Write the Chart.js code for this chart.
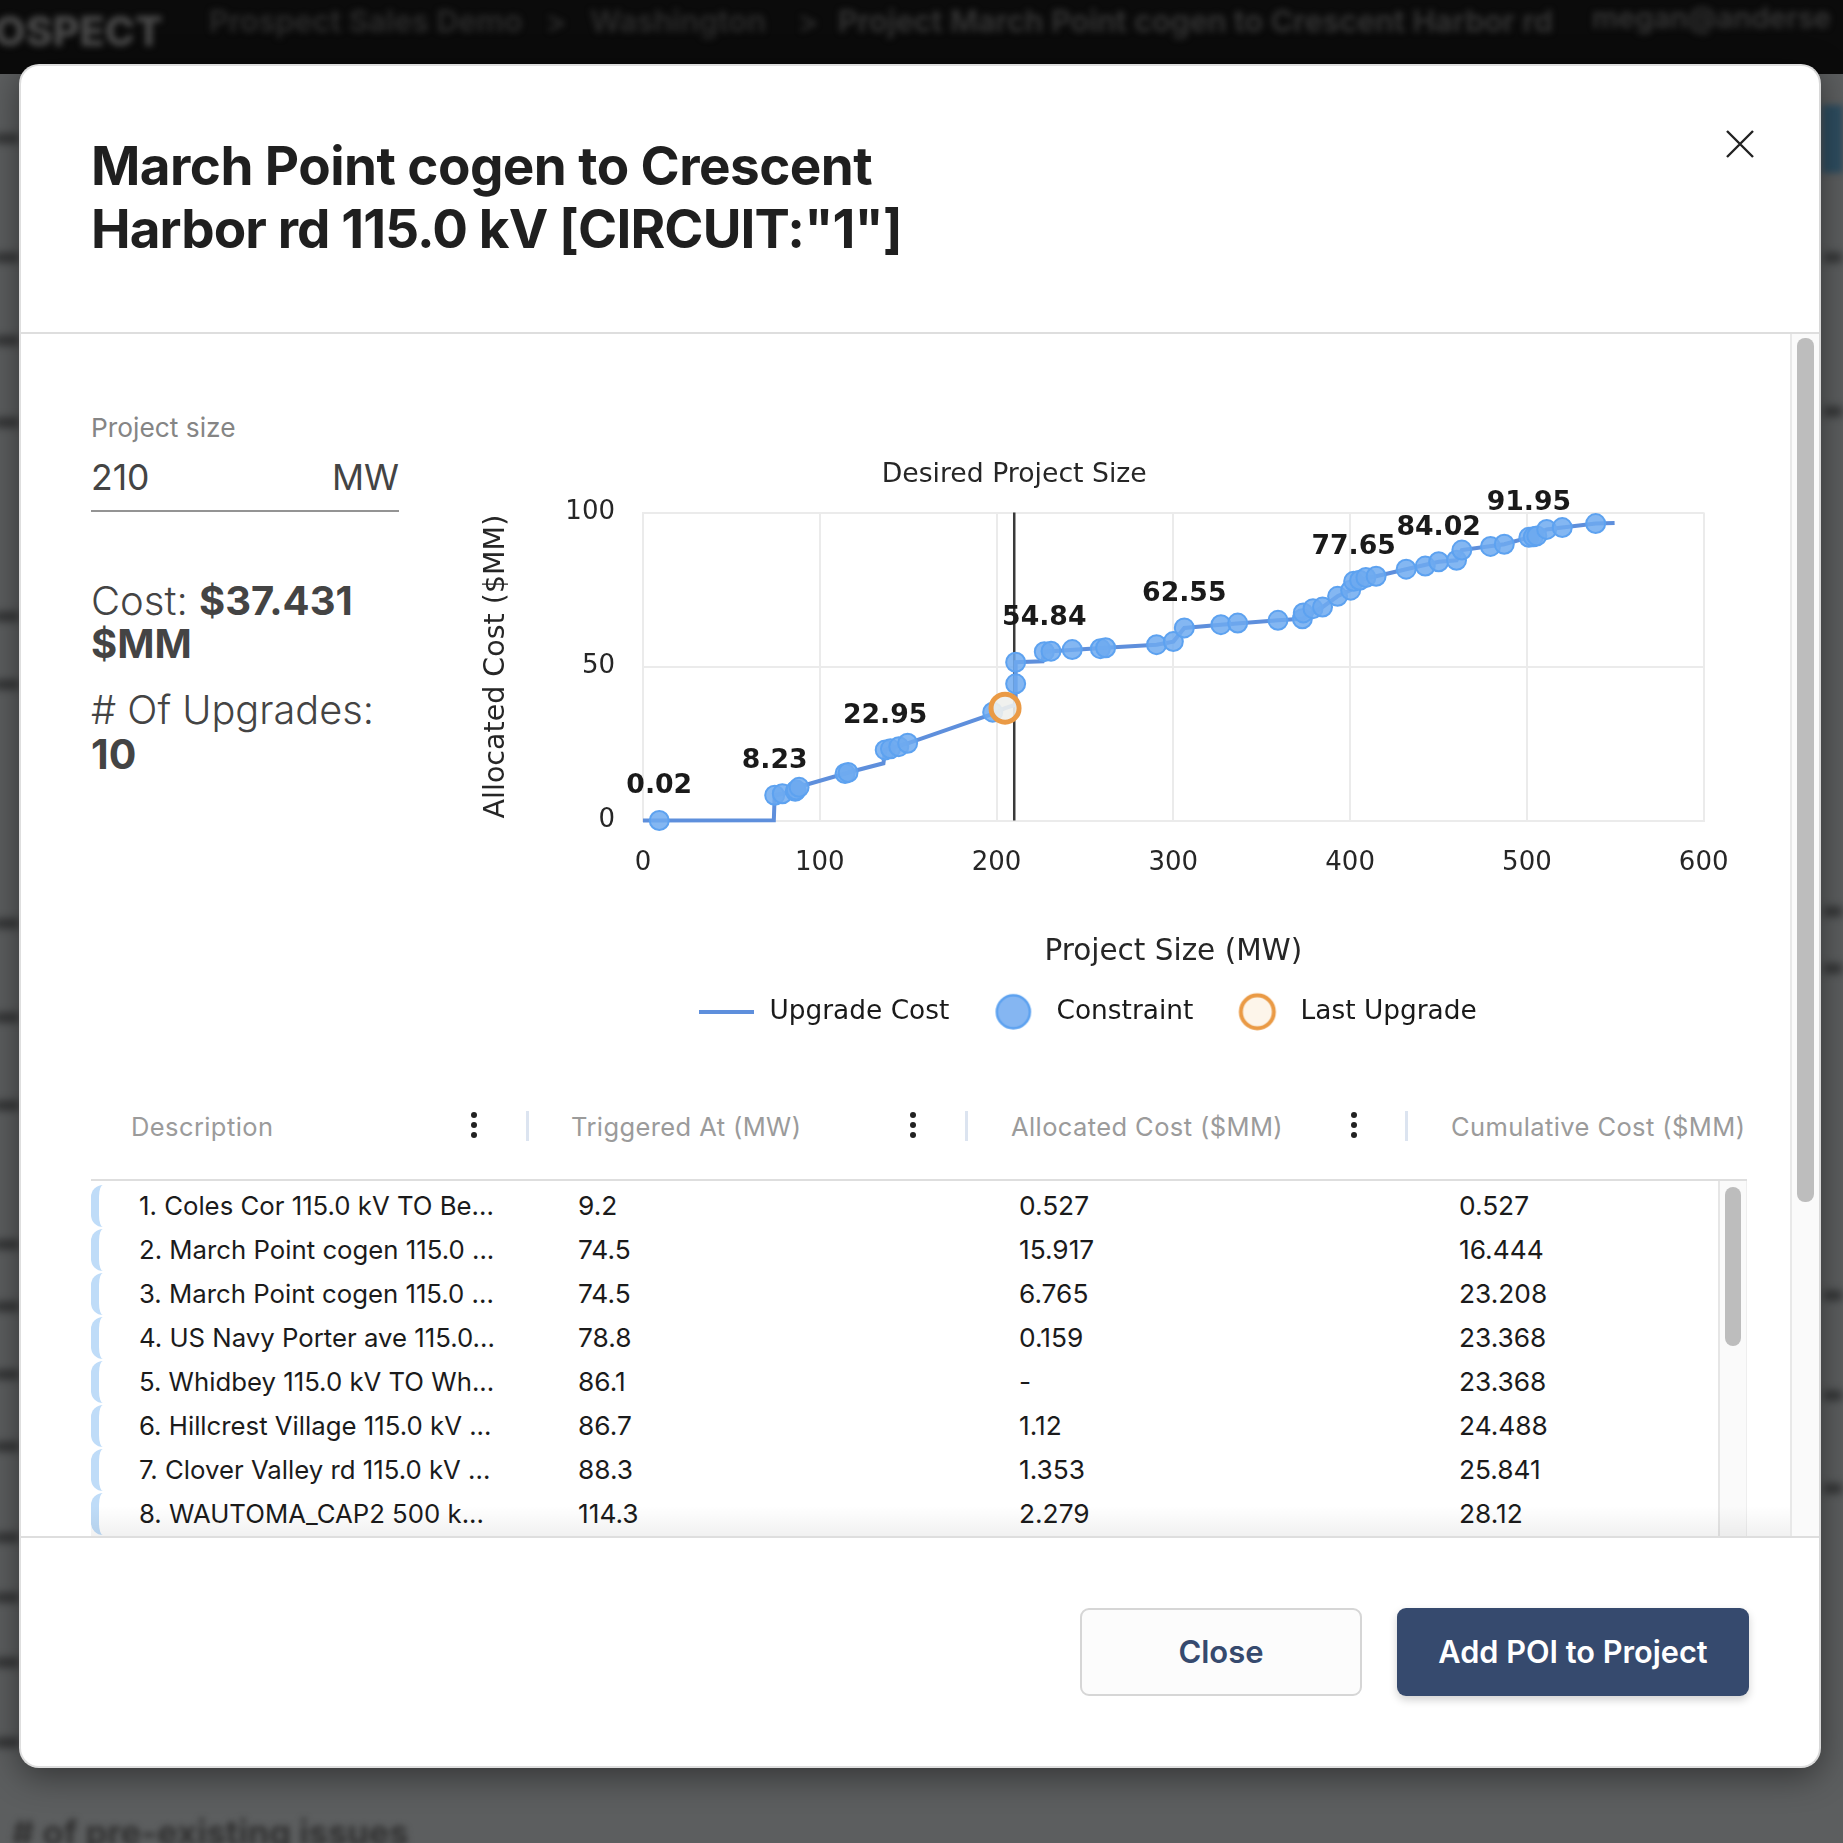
<!DOCTYPE html>
<html>
<head>
<meta charset="utf-8">
<script src="https://cdn.jsdelivr.net/npm/chart.js@4"></script>
<style>
html,body{margin:0;padding:0;width:1843px;height:1843px;overflow:hidden;background:#5c5e5f;font-family:Inter,"Noto Sans",sans-serif}
.abs{position:absolute;white-space:nowrap}
.mid{transform:translateY(-50%)}
#topbar{position:absolute;left:0;top:0;width:1843px;height:74px;background:#0b0b0b;overflow:hidden}
.blurtxt{position:absolute;white-space:nowrap;filter:blur(3px);color:#3a3a3a;font-weight:600}
.streak{position:absolute;background:#2f3031;filter:blur(4px);height:9px}
#modal{position:absolute;left:19px;top:64px;width:1802px;height:1704px;box-sizing:border-box;background:#fff;border-radius:20px;border:2.5px solid #dedede;border-right-color:#d8d8d8;box-shadow:0 8px 34px rgba(0,0,0,.45);overflow:hidden}
#page{position:absolute;left:0;top:0;width:1843px;height:1843px;overflow:hidden}
.rule{position:absolute;background:#dedede}
.row{position:absolute;left:91px;width:1626px;height:44px}
.cell{position:absolute;white-space:nowrap;font-size:26.3px;color:#1b1b1b;line-height:44px;top:0}
.cell.desc{font-size:25.75px}
.bracket{position:absolute;left:0;top:1px;width:18px;height:42px;border-left:8px solid #bfdcf8;border-radius:12px 0 0 12px;box-sizing:border-box}
.hd{position:absolute;white-space:nowrap;font-size:25.5px;color:#9b9b9b;top:1126px;transform:translateY(-50%);letter-spacing:.4px}
.sep{position:absolute;top:1111px;width:3px;height:30px;background:#dce4f0}
.keb{position:absolute;top:1112px;width:6px;height:6px;border-radius:50%;background:#222;box-shadow:0 10px 0 #222,0 20px 0 #222}
canvas{position:absolute;left:462px;top:440px}
</style>
</head>
<body>
<div id="page">
  <div id="topbar">
    <div class="blurtxt" style="left:-6px;top:6px;font-size:41px;font-weight:800;color:#4a4a4a">OSPECT</div>
    <div class="blurtxt" style="left:209px;top:2px;font-size:30.5px;color:#2c2c2c">Prospect Sales Demo</div>
    <div class="blurtxt" style="left:546px;top:2px;font-size:30.5px;color:#2c2c2c">&gt;</div>
    <div class="blurtxt" style="left:590px;top:2px;font-size:30.5px;color:#2c2c2c">Washington</div>
    <div class="blurtxt" style="left:798px;top:2px;font-size:30.5px;color:#2c2c2c">&gt;</div>
    <div class="blurtxt" style="left:838px;top:2px;font-size:30.5px;color:#363636">Project March Point cogen to Crescent Harbor rd</div>
    <div class="blurtxt" style="left:1592px;top:0px;font-size:29px;color:#363636">megan@anderse</div>
  </div>
  <div id="streaks"></div>
  <div style="position:absolute;left:1822px;top:105px;width:21px;height:68px;background:#2e4d60;filter:blur(3px)"></div>
  <div class="blurtxt" style="left:12px;top:1812px;font-size:34.5px;font-weight:700;color:#303030"># of pre-existing issues</div>

  <div id="modal"></div>

  <div class="abs" style="left:91px;top:135px;font-size:53px;font-weight:700;line-height:63px;color:#1f1f1f"><span style="letter-spacing:-.55px">March Point cogen to Crescent</span><br><span style="letter-spacing:-.88px">Harbor rd 115.0 kV [CIRCUIT:"1"]</span></div>
  <svg class="abs" style="left:1724px;top:128px" width="32" height="32"><path d="M3 3L29 29M29 3L3 29" stroke="#222" stroke-width="2.4" fill="none"/></svg>
  <div class="rule" style="left:21px;top:332px;width:1798px;height:2px"></div>

  <div class="abs mid" style="left:91px;top:427px;font-size:26.3px;color:#858585">Project size</div>
  <div class="abs mid" style="left:91px;top:477px;font-size:35.5px;color:#444;font-weight:400">210</div>
  <div class="abs mid" style="right:1444px;top:477px;font-size:35.5px;color:#444;font-weight:400">MW</div>
  <div style="position:absolute;left:91px;top:510px;width:308px;height:2px;background:#949494"></div>
  <div class="abs mid" style="left:91px;top:600px;font-size:40px;color:#444;font-weight:300">Cost: <b style="font-weight:700">$37.431</b></div>
  <div class="abs mid" style="left:91px;top:643px;font-size:40px;color:#444;font-weight:700">$MM</div>
  <div class="abs mid" style="left:91px;top:710px;font-size:39.7px;color:#444;font-weight:300"># Of Upgrades:</div>
  <div class="abs mid" style="left:91px;top:754px;font-size:41px;color:#444;font-weight:700">10</div>

  <canvas id="chart" width="1294" height="595" style="width:1294px;height:595px"></canvas>

  <div class="hd" style="left:131px">Description</div>
  <div class="hd" style="left:571px">Triggered At (MW)</div>
  <div class="hd" style="left:1011px">Allocated Cost ($MM)</div>
  <div class="hd" style="left:1451px">Cumulative Cost ($MM)</div>
  <div class="keb" style="left:471px"></div><div class="keb" style="left:910px"></div><div class="keb" style="left:1351px"></div>
  <div class="sep" style="left:526px"></div><div class="sep" style="left:965px"></div><div class="sep" style="left:1405px"></div>
  <div class="rule" style="left:91px;top:1179px;width:1656px;height:2px"></div>

  <div style="position:absolute;left:0;top:1181px;width:1843px;height:355px;overflow:hidden" id="rowsClip"></div>
  <div style="position:absolute;left:1718px;top:1181px;width:29px;height:355px;background:#fafafa;border-left:2px solid #e6e6e6;border-right:1px solid #eee;box-sizing:border-box"></div>
  <div style="position:absolute;left:1725px;top:1187px;width:16px;height:159px;border-radius:8px;background:#bdbdbd"></div>
  <div style="position:absolute;left:91px;top:1506px;width:1700px;height:30px;background:linear-gradient(rgba(0,0,0,0),rgba(0,0,0,.055))"></div>

  <div style="position:absolute;left:1790px;top:334px;width:29px;height:1202px;background:#fafafa;border-left:2px solid #e8e8e8;box-sizing:border-box"></div>
  <div style="position:absolute;left:1797px;top:338px;width:17px;height:864px;border-radius:8px;background:#bdbdbd"></div>
  <div class="rule" style="left:21px;top:1536px;width:1798px;height:2px"></div>

  <div class="abs" style="left:1080px;top:1608px;width:282px;height:88px;box-sizing:border-box;background:#fcfcfc;border:2.5px solid #d6d6d6;border-radius:9px;color:#364a6e;font-size:31px;font-weight:600;line-height:83px;text-align:center">Close</div>
  <div class="abs" style="left:1397px;top:1608px;width:352px;height:88px;background:#364a6e;border-radius:9px;color:#fff;font-size:30.7px;font-weight:600;line-height:88px;text-align:center;box-shadow:0 4px 8px rgba(0,0,0,.18)">Add POI to Project</div>
</div>

<script>
// ---- chart data ----
const constraintX = [9.2,74.5,78.8,86.1,86.7,88.3,114.3,116,137,140,144.7,149.7,197.8,210.8,210.8,227,230.8,242.8,258.7,261.7,290.5,300,306.2,326.9,336.4,359.2,373,373.5,379,384.4,392.9,400.3,402,405.4,408.9,414.7,431.7,442.5,450.1,460.2,463.2,479.4,487.2,501.1,503.6,505.6,511.2,520,538.9];
const constraintY = [0.02,8.23,8.7,9.5,9.9,10.8,15.3,15.6,22.95,23.3,24,25.1,35.2,44.4,51.4,54.84,55,55.5,55.8,56.1,57.1,58.1,62.55,63.6,64.1,65,65.5,67.4,68.8,69.3,72.8,74.8,77.65,78,78.9,79.3,81.6,82.6,84.02,84.5,87.8,89,89.7,91.95,92.1,92.4,94.5,95.1,96.4];
const lineX = [0,74,74.5,78.8,86.1,88.3,114.3,116,136,137,149.7,197.8,204.8,210.8,210.8,226,227,261.7,290.5,300,306.2,326.9,359.2,373,384.4,392.9,400.3,402,414.7,431.7,450.1,460.2,463.2,487.2,501.1,511.2,520,538.9,549.6];
const lineY = [0,0.1,8.23,8.7,9.5,11,15.3,15.6,18.6,22.95,25.1,34.6,36.5,37.6,51.4,51.7,54.84,56.1,57.1,58.1,62.55,63.6,65,65.5,69.3,72.8,74.8,77.65,79.3,81.6,84.02,84.5,87.8,89.7,91.95,94.5,95.1,96.4,96.6];
const lastUpgradeX = [204.8];
const lastUpgradeY = [36.5];
const guideX = [210,210];
const guideY = [0,100];
const labelX = [9.2,74.5,137,227,306.2,402,450.1,501.1];
const labelY = [0.02,8.23,22.95,54.84,62.55,77.65,84.02,91.95];
const labelText = ['0.02','8.23','22.95','54.84','62.55','77.65','84.02','91.95'];
const legendNames = ['Upgrade Cost','Constraint','Last Upgrade'];
const xTickLabels = [0,100,200,300,400,500,600];
const yTickLabels = [0,50,100];
const guideTitle = 'Desired Project Size';
const xTitle = 'Project Size (MW)';
const yTitle = 'Allocated Cost ($MM)';

// ---- table data ----
const rowDesc = ['1. Coles Cor 115.0 kV TO Be...','2. March Point cogen 115.0 ...','3. March Point cogen 115.0 ...','4. US Navy Porter ave 115.0...','5. Whidbey 115.0 kV TO Wh...','6. Hillcrest Village 115.0 kV ...','7. Clover Valley rd 115.0 kV ...','8. WAUTOMA_CAP2 500 k...'];
const rowTrig = ['9.2','74.5','74.5','78.8','86.1','86.7','88.3','114.3'];
const rowAlloc = ['0.527','15.917','6.765','0.159','-','1.12','1.353','2.279'];
const rowCum = ['0.527','16.444','23.208','23.368','23.368','24.488','25.841','28.12'];

// ---- page furniture ----
const leftStreaks = [134,253,336,418,612,680,919,1013,1101,1240,1302,1370,1442,1533,1593,1658,1738];
const rightStreaks = [253,407,907,964,1291,1391,1484];
const streakHost = document.getElementById('streaks');
leftStreaks.forEach(y=>{const d=document.createElement('div');d.className='streak';d.style.cssText='left:-6px;width:25px;top:'+y+'px';streakHost.appendChild(d);});
rightStreaks.forEach(y=>{const d=document.createElement('div');d.className='streak';d.style.cssText='left:1824px;width:18px;top:'+y+'px';streakHost.appendChild(d);});
const clip = document.getElementById('rowsClip');
rowDesc.forEach((t,i)=>{
  const r=document.createElement('div');r.className='row';r.style.top=(3+i*44)+'px';
  r.innerHTML='<div class="bracket"></div>'+
    '<div class="cell desc" style="left:48px">'+t+'</div>'+
    '<div class="cell" style="left:487px">'+rowTrig[i]+'</div>'+
    '<div class="cell" style="left:928px">'+rowAlloc[i]+'</div>'+
    '<div class="cell" style="left:1368px">'+rowCum[i]+'</div>';
  clip.appendChild(r);
});

// ---- legend symbols ----
function sym(w,h,draw){const c=document.createElement('canvas');c.style.display='none';c.width=w;c.height=h;draw(c.getContext('2d'));return c;}
const symLine = sym(55,4,g=>{g.fillStyle='#5e8fdc';g.fillRect(0,0,55,4);});
const symBlue = sym(38,38,g=>{g.beginPath();g.arc(19,19,16.5,0,7);g.fillStyle='#85b6f2';g.fill();g.lineWidth=2.5;g.strokeStyle='#5da2f0';g.stroke();});
const symOrange = sym(40,40,g=>{g.beginPath();g.arc(20,20,16.5,0,7);g.fillStyle='#fdf5ea';g.fill();g.lineWidth=4;g.strokeStyle='#ea9a45';g.stroke();});
const legendSyms = [symLine,symBlue,symOrange];

const xy = (xs,ys)=>xs.map((x,i)=>({x:x,y:ys[i]}));
const axisFont = {family:'"DejaVu Sans"',size:26};
const ink = '#262626';

const overlay = {
  id:'overlay',
  afterDatasetsDraw(chart){
    const g=chart.ctx,sx=chart.scales.x,sy=chart.scales.y;
    g.save();
    g.textAlign='center';g.textBaseline='middle';
    g.fillStyle='#1a1a1a';g.font='bold 26.7px "DejaVu Sans"';
    labelText.forEach((t,i)=>g.fillText(t,sx.getPixelForValue(labelX[i]),sy.getPixelForValue(labelY[i])-34));
    g.fillStyle=ink;g.font='26.7px "DejaVu Sans"';
    g.fillText(guideTitle,sx.getPixelForValue(guideX[0]),sy.getPixelForValue(guideY[1])-37.5);
    g.restore();
  }
};

new Chart(document.getElementById('chart'),{
  type:'scatter',
  plugins:[overlay],
  data:{datasets:[
    {label:legendNames[2],data:xy(lastUpgradeX,lastUpgradeY),order:0,clip:false,showLine:false,pointRadius:14,pointBorderWidth:5,pointBorderColor:'#ea9a45',pointBackgroundColor:'rgba(238,240,236,.9)'},
    {label:legendNames[1],data:xy(constraintX,constraintY),order:1,clip:false,showLine:false,pointRadius:9.5,pointBorderWidth:2,pointBorderColor:'#5da2f0',pointBackgroundColor:'rgba(110,170,240,.85)'},
    {label:legendNames[0],data:xy(lineX,lineY),order:2,clip:false,showLine:true,pointRadius:0,borderColor:'#5e8fdc',borderWidth:4,tension:0},
    {label:'guide',data:xy(guideX,guideY),order:3,clip:false,showLine:true,pointRadius:0,borderColor:'#3a3a3a',borderWidth:2.5}
  ]},
  options:{
    responsive:false,animation:false,devicePixelRatio:1,
    layout:{autoPadding:false,padding:{top:72.5,right:45,left:0,bottom:0}},
    scales:{
      x:{type:'linear',min:0,max:600,
        grid:{color:'#ebebeb',lineWidth:2,drawTicks:false},border:{color:'#ebebeb',width:2},
        afterFit(s){s.height=144;},
        afterBuildTicks(s){s.ticks=xTickLabels.map(v=>({value:v}));},
        ticks:{font:axisFont,color:ink,padding:27.5,maxRotation:0,autoSkip:false},
        title:{display:true,text:xTitle,color:ink,font:{family:'"DejaVu Sans"',size:29.5},padding:{top:0,bottom:-5.5}}},
      y:{type:'linear',min:0,max:100,
        grid:{color:'#ebebeb',lineWidth:2,drawTicks:false},border:{color:'#ebebeb',width:2},
        afterFit(s){s.width=181;},
        afterBuildTicks(s){s.ticks=yTickLabels.map(v=>({value:v}));},
        ticks:{font:axisFont,color:ink,padding:28},
        title:{display:true,text:yTitle,color:ink,font:{family:'"DejaVu Sans"',size:28.5},padding:{top:17,bottom:0}}}
    },
    plugins:{
      tooltip:{enabled:false},
      title:{display:false},
      legend:{display:true,position:'bottom',align:'center',
        labels:{usePointStyle:true,pointStyleWidth:60,padding:34,font:{family:'"DejaVu Sans"',size:26.4},color:'#1a1a1a',
          generateLabels(){return legendNames.map((n,i)=>({text:n,pointStyle:legendSyms[i],datasetIndex:i,fontColor:'#1a1a1a',lineWidth:0,hidden:false}));}}}
    }
  }
});
</script>
</body>
</html>
